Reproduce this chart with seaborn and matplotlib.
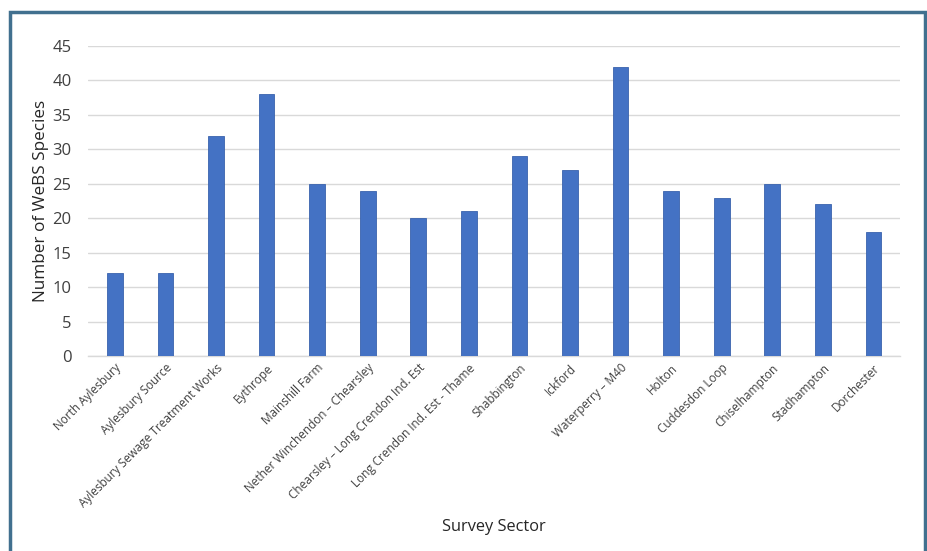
import matplotlib
matplotlib.use('Agg')
import matplotlib.pyplot as plt
import seaborn as sns
import pandas as pd
from matplotlib.patches import Rectangle

# survey sectors and species counts
sectors = [
    'North Aylesbury', 'Aylesbury Source', 'Aylesbury Sewage Treatment Works',
    'Eythrope', 'Mainshill Farm', 'Nether Winchendon \u2013 Chearsley',
    'Chearsley \u2013 Long Crendon Ind. Est', 'Long Crendon Ind. Est - Thame',
    'Shabbington', 'Ickford', 'Waterperry \u2013 M40', 'Holton',
    'Cuddesdon Loop', 'Chiselhampton', 'Stadhampton', 'Dorchester',
]
species = [12, 12, 32, 38, 25, 24, 20, 21, 29, 27, 42, 24, 23, 25, 22, 18]
yticks = [0, 5, 10, 15, 20, 25, 30, 35, 40, 45]

df = pd.DataFrame({'sector': sectors, 'species': species})

sns.set_style('white')
plt.rcParams['font.family'] = ['Open Sans', 'DejaVu Sans']

fig = plt.figure(figsize=(9.28, 5.51), dpi=100)
ax = fig.add_axes([0.095, 0.354, 0.875, 0.5625])

sns.barplot(data=df, x='sector', y='species', color='#4472C4', saturation=1,
            width=0.31, edgecolor='#3A63AD', linewidth=0.6, ax=ax, zorder=3)

ax.set_ylim(0, 45)
ax.set_yticks(yticks)
ax.set_xlim(-0.53, len(sectors) - 0.47)
ax.grid(axis='y', color='#D9D9D9', linewidth=1, zorder=0)
for s in ['top', 'right', 'left']:
    ax.spines[s].set_visible(False)
ax.spines['bottom'].set_color('#D9D9D9')
ax.spines['bottom'].set_linewidth(1)

ax.tick_params(axis='y', labelsize=12, colors='#404040', length=0, pad=12)
ax.tick_params(axis='x', labelsize=8.5, colors='#404040', length=0, pad=4)
plt.setp(ax.get_xticklabels(), rotation=45, ha='right', rotation_mode='anchor')

ax.set_xlabel('')
ax.set_ylabel('Number of WeBS Species', fontsize=12.3, color='#262626', labelpad=2)
fig.text(0.532, 0.044, 'Survey Sector', fontsize=11.8, color='#262626',
         ha='center', va='center')

# outer frame
fig.patches.append(Rectangle((10.5 / 928, -0.05), (925 - 10.5) / 928, 1.05 - 12 / 551,
                             transform=fig.transFigure, fill=False,
                             edgecolor='#41708F', linewidth=2.5, zorder=10))

fig.savefig('out.png', dpi=100)
